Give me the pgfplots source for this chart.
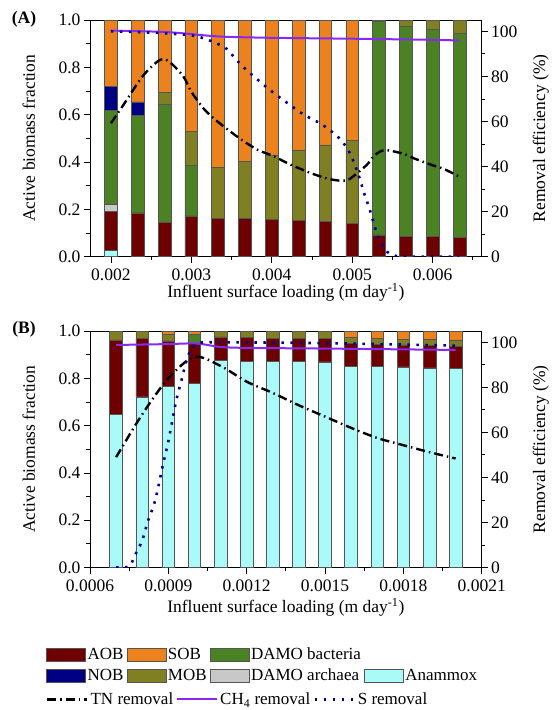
\documentclass[border=0pt]{standalone}
\usepackage{fontspec}
\setmainfont{Liberation Serif}
\usepackage{pgfplots}
\usepackage{pgfplotstable}
\pgfplotsset{compat=1.18}
\definecolor{aob}{RGB}{110,0,0}
\definecolor{sob}{RGB}{235,130,30}
\definecolor{damob}{RGB}{75,130,35}
\definecolor{nob}{RGB}{0,0,130}
\definecolor{mob}{RGB}{128,128,35}
\definecolor{darch}{RGB}{200,200,200}
\definecolor{anam}{RGB}{170,250,250}
\definecolor{edge}{RGB}{85,85,85}
\definecolor{ch4c}{RGB}{135,40,245}
\definecolor{sc}{RGB}{0,0,150}
\tikzset{
 tnl/.style={black, line width=2.4pt, dash pattern=on 9pt off 4pt on 1.5pt off 4pt},
 chl/.style={ch4c, line width=2pt},
 sl/.style={sc, line width=2.6pt, dash pattern=on 2.5pt off 6.5pt},
 barst/.style={draw=edge, line width=0.6pt},
}
\pgfplotsset{
 legboxaxis/.style={legend image code/.code={\draw[##1] (0pt,-6.5pt) rectangle (39pt,6.5pt);}},
 leglineaxis/.style={legend image code/.code={\draw[##1] (0pt,0pt) -- (40pt,0pt);}},
 base/.style={scale only axis, width=391.7pt, height=236.7pt, enlargelimits=false,
   tick align=outside, major tick length=6pt, minor tick length=3.5pt,
   /pgf/number format/assume math mode=true,
   axis line style={line width=0.9pt}, every tick/.style={black, line width=0.8pt}},
 leftax/.style={base, ymin=0, ymax=1, ybar stacked, scaled x ticks=false, scaled y ticks=false,
   ytick={0,0.2,0.4,0.6,0.8,1}, yticklabels={0.0,0.2,0.4,0.6,0.8,1.0},
   minor ytick={0.1,0.3,0.5,0.7,0.9}, xtick pos=left, ytick pos=left,
   xticklabel style={yshift=-3pt},
   ylabel={Active biomass fraction},
   every axis y label/.style={at={(axis description cs:-0.156,0.5)},rotate=90,anchor=center}},
 rightax/.style={base, ymin=0, ymax=105, axis x line=none, axis y line*=right,
   ytick={0,20,40,60,80,100}, yticklabels={0,20,40,60,80,100},
   minor ytick={10,30,50,70,90},
   ylabel={Removal efficiency (\%)},
   every axis y label/.style={at={(axis description cs:1.151,0.5)},rotate=90,anchor=center}},
}
\pgfplotstableread{
x an aob arch damo mob nob sob
0.002     0.025 0.165 0.030 0.398 0.000 0.102 0.280
0.0023333 0.000 0.185 0.000 0.412 0.000 0.057 0.346
0.0026667 0.000 0.146 0.000 0.498 0.050 0.000 0.306
0.003     0.000 0.172 0.000 0.215 0.144 0.000 0.469
0.0033333 0.000 0.163 0.000 0.000 0.214 0.000 0.623
0.0036667 0.000 0.161 0.000 0.000 0.240 0.000 0.599
0.004     0.000 0.158 0.000 0.000 0.270 0.000 0.572
0.0043333 0.000 0.152 0.000 0.000 0.299 0.000 0.549
0.0046667 0.000 0.148 0.000 0.000 0.324 0.000 0.528
0.005     0.000 0.141 0.000 0.000 0.349 0.000 0.510
0.0053333 0.000 0.092 0.000 0.904 0.004 0.000 0.000
0.0056667 0.000 0.087 0.000 0.887 0.026 0.000 0.000
0.006     0.000 0.087 0.000 0.872 0.041 0.000 0.000
0.0063333 0.000 0.082 0.000 0.862 0.056 0.000 0.000
}\tabA
\pgfplotstableread{
x an aob arch damo mob nob sob
0.0007 0.648 0.314 0 0.000 0.038 0 0.000
0.0008 0.721 0.247 0 0.000 0.032 0 0.000
0.0009 0.765 0.193 0 0.000 0.027 0 0.015
0.0010 0.777 0.171 0 0.037 0.000 0 0.015
0.0011 0.876 0.099 0 0.000 0.025 0 0.000
0.0012 0.873 0.099 0 0.000 0.028 0 0.000
0.0013 0.872 0.098 0 0.000 0.030 0 0.000
0.0014 0.870 0.098 0 0.000 0.032 0 0.000
0.0015 0.869 0.099 0 0.000 0.032 0 0.000
0.0016 0.852 0.096 0 0.000 0.024 0 0.028
0.0017 0.849 0.095 0 0.000 0.024 0 0.032
0.0018 0.848 0.093 0 0.000 0.024 0 0.035
0.0019 0.844 0.095 0 0.000 0.026 0 0.035
0.0020 0.841 0.093 0 0.000 0.028 0 0.038
}\tabB
\begin{document}
\begin{tikzpicture}[font=\fontsize{17.5}{20}\selectfont]
\useasboundingbox (0pt,0pt) rectangle (555pt,-710pt);
% ---------------- Panel A bars
\begin{axis}[leftax, at={(90pt,-256.7pt)}, anchor=south west,
  xmin=0.00174, xmax=0.00661, bar width=0.000159,
  xtick={0.002,0.003,0.004,0.005,0.006}, xticklabels={0.002,0.003,0.004,0.005,0.006},
  minor xtick={0.0025,0.0035,0.0045,0.0055,0.0065},
  xlabel={Influent surface loading (m day\textsuperscript{-1})},
  every axis x label/.style={at={(axis description cs:0.5,-0.152)},anchor=center}]
\addplot[barst, fill=anam] table[x=x,y=an]{\tabA};
\addplot[barst, fill=aob] table[x=x,y=aob]{\tabA};
\addplot[barst, fill=darch] table[x=x,y=arch]{\tabA};
\addplot[barst, fill=damob] table[x=x,y=damo]{\tabA};
\addplot[barst, fill=mob] table[x=x,y=mob]{\tabA};
\addplot[barst, fill=nob] table[x=x,y=nob]{\tabA};
\addplot[barst, fill=sob] table[x=x,y=sob]{\tabA};
\end{axis}
% ---------------- Panel A lines
\begin{axis}[rightax, at={(90pt,-256.7pt)}, anchor=south west, xmin=0.00174, xmax=0.00661]
\addplot[tnl, smooth] coordinates {(0.002,59.2) (0.00216,67.6) (0.0024,80.3) (0.00261,87.3) (0.00273,86.3) (0.0029,80) (0.003,73.2) (0.00315,65.8) (0.00329,61) (0.00346,56.2) (0.00364,51.5) (0.00383,47.3) (0.00401,44.8) (0.0042,41.4) (0.00436,38.9) (0.00453,36.5) (0.00471,34.5) (0.00487,33.7) (0.00497,34.5) (0.00518,40.7) (0.00528,45) (0.00541,47.3) (0.00566,45.4) (0.00577,43.6) (0.00599,40.7) (0.00614,38.9) (0.0063333,35.5)};
\addplot[chl, smooth] coordinates {(0.002,100.3) (0.0026,99.8) (0.0029,99.1) (0.0031,98.4) (0.0034,97.6) (0.004,97.1) (0.005,96.7) (0.006,96.2) (0.0063333,95.9)};
\addplot[sl, smooth] coordinates {(0.002,100) (0.0025,99.4) (0.0028,98.8) (0.00304,98) (0.00319,96.4) (0.00331,94.7) (0.00344,92.2) (0.00356,87.3) (0.00368,83) (0.00381,79) (0.00394,75) (0.00407,71.4) (0.0042,68) (0.00433,64.6) (0.00446,61.8) (0.0046,59.2) (0.00472,56.2) (0.00484,52.5) (0.00494,48) (0.00502,42) (0.00509,35) (0.00515,28) (0.00522,20.7) (0.0053,11) (0.00536,6) (0.00544,2) (0.00555,0.3) (0.0057,0) (0.0063333,0)};
\end{axis}
% ---------------- Panel B bars
\begin{axis}[leftax, at={(90pt,-567.5pt)}, anchor=south west, height=236.5pt,
  xmin=0.0006, xmax=0.0021, bar width=0.0000486,
  xtick={0.0006,0.0009,0.0012,0.0015,0.0018,0.0021}, xticklabels={0.0006,0.0009,0.0012,0.0015,0.0018,0.0021},
  minor xtick={0.00075,0.00105,0.00135,0.00165,0.00195},
  xlabel={Influent surface loading (m day\textsuperscript{-1})},
  every axis x label/.style={at={(axis description cs:0.5,-0.169)},anchor=center}]
\addplot[barst, fill=anam] table[x=x,y=an]{\tabB};
\addplot[barst, fill=aob] table[x=x,y=aob]{\tabB};
\addplot[barst, fill=darch] table[x=x,y=arch]{\tabB};
\addplot[barst, fill=damob] table[x=x,y=damo]{\tabB};
\addplot[barst, fill=mob] table[x=x,y=mob]{\tabB};
\addplot[barst, fill=nob] table[x=x,y=nob]{\tabB};
\addplot[barst, fill=sob] table[x=x,y=sob]{\tabB};
\end{axis}
% ---------------- Panel B lines
\begin{axis}[rightax, at={(90pt,-567.5pt)}, anchor=south west, height=236.5pt, xmin=0.0006, xmax=0.0021]
\addplot[tnl, smooth] coordinates {(0.0007,49) (0.0008,68) (0.0009,84) (0.001,93.5) (0.0011,89.5) (0.0012,82.5) (0.0013,77.5) (0.0014,72) (0.0015,67) (0.0016,62) (0.0017,57.5) (0.0018,54.3) (0.0019,51.2) (0.002,48.4)};
\addplot[chl, smooth] coordinates {(0.0007,98.8) (0.0008,99) (0.0009,99.2) (0.001,99.5) (0.00105,98.8) (0.0011,97.9) (0.0012,97.5) (0.0015,97.2) (0.002,96.6)};
\addplot[sl, smooth] coordinates {(0.0007,0) (0.00075,0.5) (0.00077,5) (0.0008,12) (0.00082,20) (0.00085,30) (0.00088,46) (0.0009,56) (0.00093,74) (0.00095,83) (0.00097,92) (0.00099,97.5) (0.00102,99.8) (0.0011,100) (0.0015,99.6) (0.002,98.5)};
\end{axis}
% ---------------- Legends
\begin{axis}[legboxaxis, hide axis, scale only axis, width=391.7pt, height=236.5pt,
  at={(90pt,-567.5pt)}, anchor=south west, xmin=0, xmax=1, ymin=0, ymax=1,
  legend columns=4, legend cell align=left,
  legend style={at={(axis description cs:-0.1123,-0.33)}, anchor=north west, draw=none, fill=none,
    inner sep=0pt, row sep=4pt, nodes={inner sep=2pt},
    /tikz/every even column/.append style={column sep=1pt},
    font=\fontsize{17}{19}\selectfont}]
\addlegendimage{fill=aob, draw=edge}\addlegendentry{AOB}
\addlegendimage{fill=sob, draw=edge}\addlegendentry{SOB}
\addlegendimage{fill=damob, draw=edge}\addlegendentry{DAMO bacteria}
\addlegendimage{empty legend}\addlegendentry{}
\addlegendimage{fill=nob, draw=edge}\addlegendentry{NOB}
\addlegendimage{fill=mob, draw=edge}\addlegendentry{MOB}
\addlegendimage{fill=darch, draw=edge}\addlegendentry{DAMO archaea}
\addlegendimage{fill=anam, draw=edge}\addlegendentry{Anammox}
\end{axis}
\begin{axis}[leglineaxis, hide axis, scale only axis, width=391.7pt, height=236.5pt,
  at={(90pt,-567.5pt)}, anchor=south west, xmin=0, xmax=1, ymin=0, ymax=1,
  legend columns=3, legend cell align=left,
  legend style={at={(axis description cs:-0.1123,-0.52)}, anchor=north west, draw=none, fill=none,
    inner sep=0pt, nodes={inner sep=2pt},
    /tikz/every even column/.append style={column sep=1pt},
    font=\fontsize{17}{19}\selectfont}]
\addlegendimage{tnl}\addlegendentry{TN removal}
\addlegendimage{chl}\addlegendentry{CH\textsubscript{4} removal}
\addlegendimage{sl}\addlegendentry{S removal}
\end{axis}
\node[font=\bfseries\fontsize{17.5}{20}\selectfont] at (24pt,-19pt) {(A)};
\node[font=\bfseries\fontsize{17.5}{20}\selectfont] at (24pt,-329pt) {(B)};
\end{tikzpicture}
\end{document}
